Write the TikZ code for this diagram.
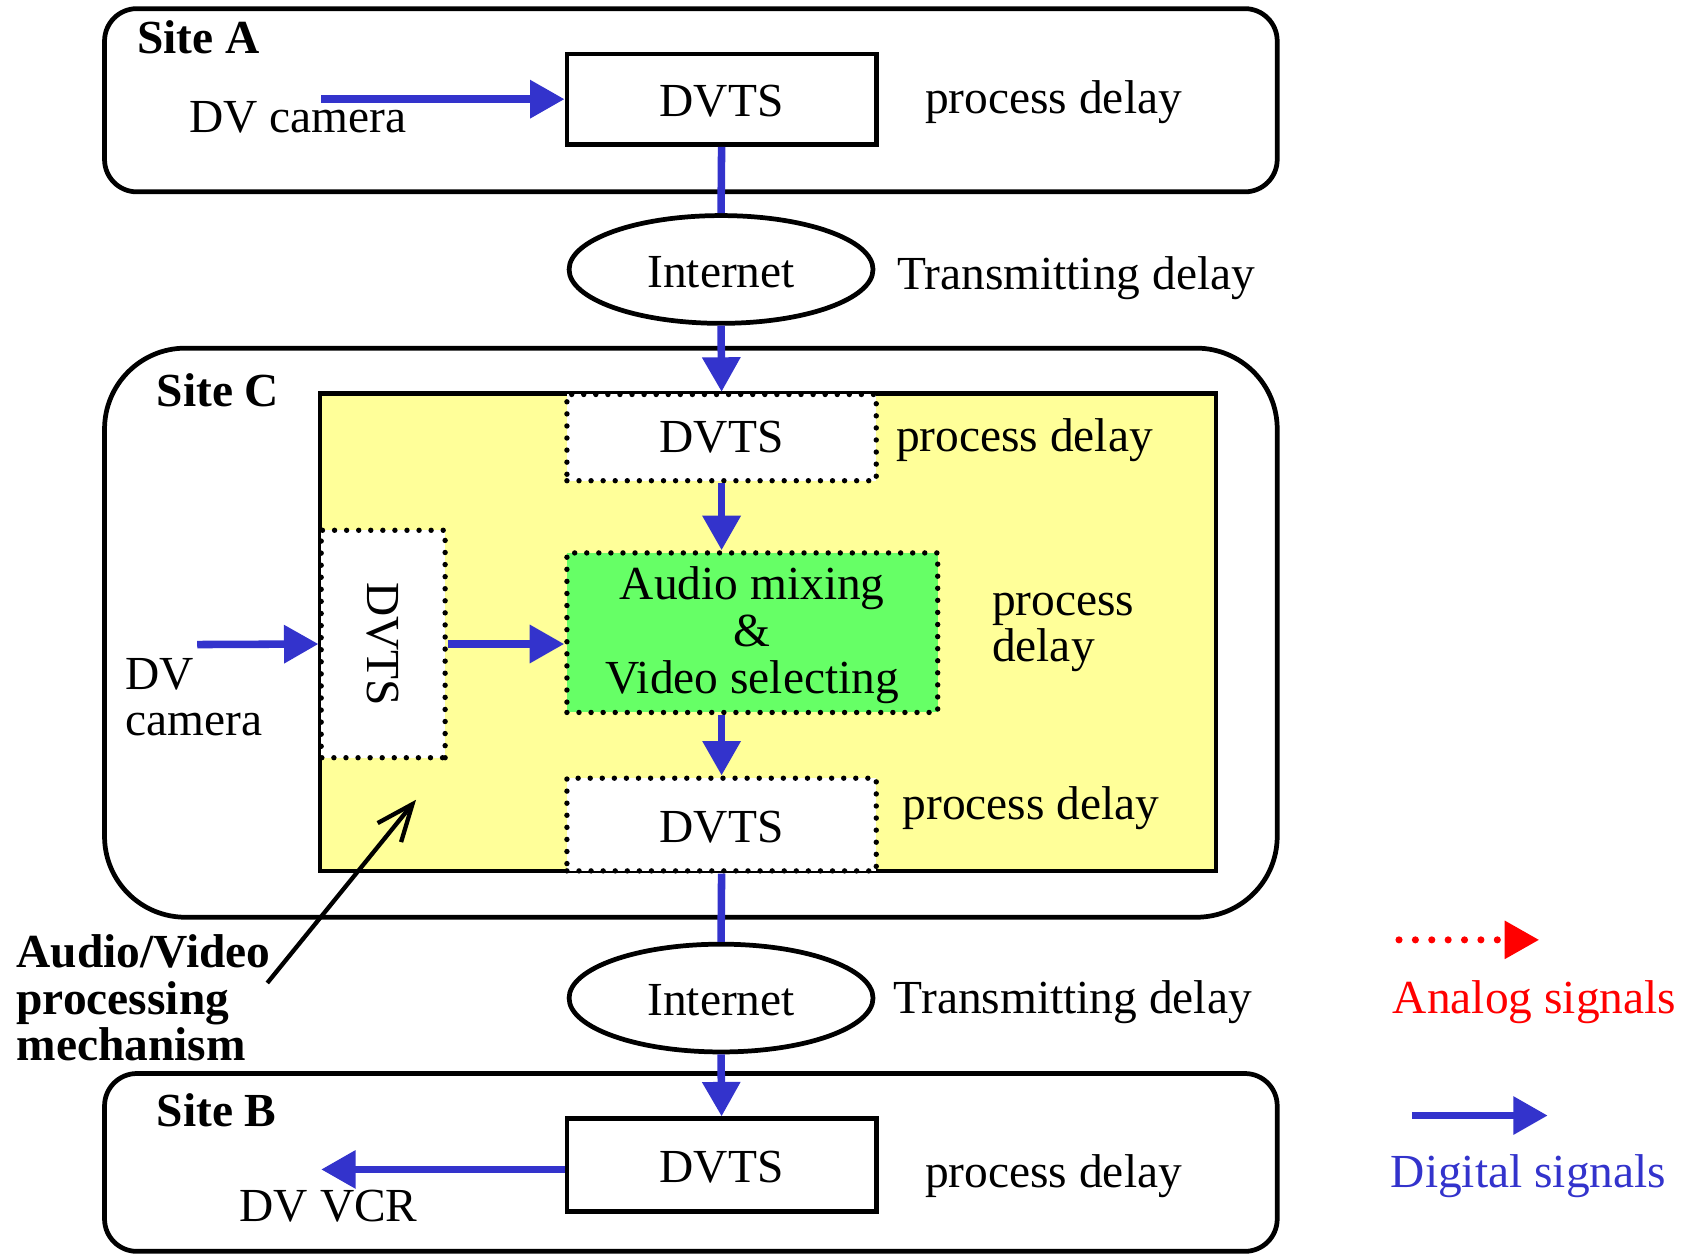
\documentclass[tikz,border=0pt]{standalone}
\usepackage{fontspec}
\setmainfont{Liberation Serif}
\usetikzlibrary{arrows.meta,shapes.geometric}
\definecolor{sigblue}{RGB}{51,51,204}
\definecolor{sigred}{RGB}{255,0,0}
\definecolor{padyellow}{RGB}{255,255,153}
\definecolor{mixgreen}{RGB}{102,255,102}
\newcommand{\lowertext}[2]{\raisebox{-#1}[\height][\depth]{#2}}
\begin{document}
\begin{tikzpicture}[x=0.5pt,y=-0.5pt,
  every node/.style={font=\fontsize{22}{21.5}\selectfont, inner sep=0pt},
  sitebox/.style={draw, line width=2.2pt, rounded corners=15pt},
  solidbox/.style={draw, line width=2.2pt, fill=white, minimum width=143.5pt, minimum height=42pt},
  dotbox/.style={draw, line width=2.5pt, dash pattern=on 0pt off 5.6pt, line cap=round, fill=white},
  net/.style={ellipse, draw, line width=2.2pt, fill=white, minimum width=141pt, minimum height=50pt},
  sig/.style={sigblue, line width=3.5pt, -{Triangle[length=16pt,width=17pt]}},
  sigline/.style={sigblue, line width=3.5pt},
  lbl/.style={anchor=base west},
  boldlbl/.style={font=\fontsize{22}{21.5}\selectfont\bfseries}
]
\useasboundingbox (0,0) rectangle (1568,1164);

% sites
\node[sitebox, minimum width=544pt, minimum height=85pt] (siteA) at (641,93) {};
\node[sitebox, rounded corners=37.5pt, minimum width=544pt, minimum height=264pt] (siteC) at (641,587) {};
\node[sitebox, minimum width=544pt, minimum height=82.5pt] (siteB) at (641,1078.5) {};

% processing pad
\node[draw, line width=2pt, fill=padyellow, minimum width=415.5pt, minimum height=221.5pt] (pad) at (712.5,586.5) {};

% boxes
\node[solidbox] (dA) at (669.5,92) {\lowertext{1pt}{DVTS}};
\node[net] (netA) at (669,250) {\lowertext{1.5pt}{Internet}};
\node[dotbox, minimum width=143.5pt, minimum height=40pt] (dC1) at (669.5,406) {DVTS};
\node[dotbox, fill=mixgreen, minimum width=172pt, minimum height=74pt] (mix) at (698,587) {\lowertext{2pt}{\begin{tabular}{@{}c@{}}Audio mixing\\\&\\Video selecting\end{tabular}}};
\node[dotbox, rotate=-90, minimum width=105.5pt, minimum height=57.5pt] (dCL) at (355.5,597.5) {DVTS};
\node[dotbox, minimum width=143.5pt, minimum height=43pt] (dC2) at (669.5,765) {\lowertext{1pt}{DVTS}};
\node[net] (netB) at (669,926) {\lowertext{1pt}{Internet}};
\node[solidbox, minimum height=43pt] (dB) at (669.5,1081) {\lowertext{1pt}{DVTS}};

% connectors
\coordinate (camA) at (298,92);
\coordinate (camC) at (183,598);
\coordinate (vcr) at (298,1085);
\draw[sig] (camA) -- (dA.west);
\draw[sigline] (dA.south) -- (netA.north);
\draw[sig] (netA.south) -- (dC1.north);
\draw[sig] (dC1.south) -- (dC1.south |- mix.north);
\draw[sig] (camC) -- (dCL.south);
\draw[sig] (dCL.north) -- (dCL.north -| mix.west);
\draw[sig] (mix.south -| dC2.north) -- (dC2.north);
\draw[sigline] (dC2.south) -- (netB.north);
\draw[sig] (netB.south) -- (dB.north);
\draw[sig] (dB.west |- vcr) -- (vcr);

\coordinate (mechTail) at (248,912);
\coordinate (mechTip) at (386,742);
\draw[line width=2pt, -{Straight Barb[length=17pt,width=14pt]}] (mechTail) -- (mechTip);

% labels
\node[lbl, boldlbl] (lSiteA) at (127,50) {Site A};
\node[lbl] (lCamA) at (175,123) {DV camera};
\node[lbl] (lPdA) at (858,105) {process delay};
\node[lbl] (lTdA) at (832,269) {Transmitting delay};
\node[lbl, boldlbl] (lSiteC) at (145,377) {Site C};
\node[lbl] (lPdC1) at (831,419) {process delay};
\node[anchor=west, align=left] (lPdMix) at (920,587) {process\\delay};
\node[anchor=west, align=left] (lCamC) at (116,647) {DV\\camera};
\node[lbl] (lPdC2) at (837,760) {process delay};
\node[lbl] (lTdB) at (829,940) {Transmitting delay};
\node[anchor=west, align=left, boldlbl] (lMech) at (15,926) {Audio/Video\\processing\\mechanism};
\node[lbl, boldlbl] (lSiteB) at (145,1045) {Site B};
\node[lbl] (lPdB) at (858,1102) {process delay};
\node[lbl] (lVcr) at (222,1133) {DV VCR};

% legend
\coordinate (anS) at (1298,872);
\coordinate (anE) at (1428,872);
\draw[sigred, line width=3.3pt, dash pattern=on 0pt off 7.6pt, line cap=round, -{Triangle[length=16pt,width=17pt]}] (anS) -- (anE);
\node[lbl, text=sigred] (lAnalog) at (1292,940) {Analog signals};
\coordinate (dgS) at (1310,1035);
\coordinate (dgE) at (1436,1035);
\draw[sig] (dgS) -- (dgE);
\node[lbl, text=sigblue] (lDigital) at (1290,1102) {Digital signals};
\end{tikzpicture}
\end{document}
